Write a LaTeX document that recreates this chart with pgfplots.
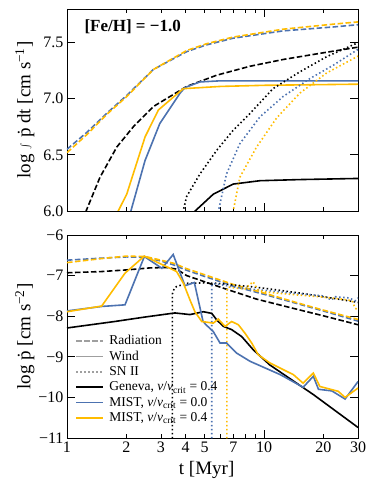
\documentclass[border=0pt]{standalone}
\usepackage{fontspec}
\setmainfont{Liberation Serif}
\usepackage{pgfplots}
\pgfplotsset{compat=1.18}
\definecolor{mblue}{RGB}{76,114,176}
\definecolor{mgold}{RGB}{255,188,0}

\pgfplotsset{
  panel/.style={
    scale only axis, width=291pt, xmin=1, xmax=30,
    xtick={1,10}, minor xtick={6,8,9},
    extra x ticks={2,3,4,5,7,20,30},
    extra x tick style={major tick length=4pt, grid=none},
    major tick length=8pt, minor tick length=4pt,
    tick style={black, line width=0.8pt},
    axis line style={line width=0.8pt},
    tick label style={font=\fontsize{16}{18}\selectfont},
    /pgf/number format/assume math mode=true,
    label style={font=\fontsize{19}{22}\selectfont},
    ylabel style={at={(axis description cs:-0.145,0.5)}, anchor=center},
  },
  rad/.style={line width=1.6pt, dash pattern=on 5.5pt off 2.5pt},
  wind/.style={line width=1.6pt},
  sn/.style={line width=1.6pt, dash pattern=on 1.5pt off 2.5pt},
}

\begin{document}
\begin{tikzpicture}
% ---- top: cumulative momentum ----
\begin{semilogxaxis}[panel, at={(0,0)}, height=202pt,
  ymin=6.0, ymax=7.8, ytick={6.0,6.5,7.0,7.5}, yticklabels={6.0,6.5,7.0,7.5},
  xticklabels={}, extra x tick labels={},
  ylabel={log $\int$ \.{p} dt [cm s\textsuperscript{−1}]},
]
\addplot[rad, mblue] coordinates {(1,6.55) (1.26,6.70) (1.59,6.87) (2.01,7.03) (2.74,7.26) (4.05,7.42) (5.1,7.48) (6.98,7.54) (12.5,7.605) (22.5,7.64) (30,7.66)};
\addplot[rad, mgold] coordinates {(1,6.52) (1.26,6.68) (1.59,6.86) (2.01,7.02) (2.74,7.26) (4.05,7.43) (5.1,7.49) (6.98,7.55) (12.5,7.62) (22.5,7.665) (30,7.685)};
\addplot[rad, black] coordinates {(1.22,5.92) (1.25,6.0) (1.47,6.30) (1.79,6.57) (2.17,6.75) (2.74,6.93) (4.05,7.11) (5.75,7.21) (8.5,7.29) (12.5,7.35) (18.5,7.40) (30,7.46)};
\addplot[wind, mblue] coordinates {(2.05,5.9) (2.11,6.0) (2.49,6.45) (2.96,6.78) (3.75,7.05) (3.97,7.10) (4.73,7.15) (6,7.16) (30,7.16)};
\addplot[wind, mgold] coordinates {(1.78,5.9) (1.82,6.0) (2.01,6.15) (2.49,6.66) (2.91,6.90) (3.89,7.09) (6,7.11) (10,7.12) (30,7.13)};
\addplot[wind, black] coordinates {(4.4,5.97) (4.47,6.0) (5.53,6.15) (6.98,6.24) (9.55,6.27) (15.2,6.28) (30,6.29)};
\addplot[sn, black] coordinates {(3.85,5.95) (3.89,6.0) (4.05,6.13) (4.73,6.33) (5.75,6.54) (6.98,6.72) (8.5,6.87) (11.1,7.09) (15.2,7.24) (20.8,7.375) (30,7.5)};
\addplot[sn, mblue] coordinates {(5.8,5.95) (5.87,6.0) (6.45,6.33) (7.54,6.60) (9.55,6.84) (12.5,7.02) (17.1,7.18) (22.5,7.30) (30,7.44)};
\addplot[sn, mgold] coordinates {(6.9,5.95) (6.98,6.0) (7.54,6.30) (9.17,6.57) (11.6,6.83) (15.2,7.05) (20.8,7.23) (30,7.38)};
\node[anchor=west, font=\fontsize{17}{19}\selectfont] at (rel axis cs:0.048,0.912) {\textbf{[Fe/H] = −1.0}};
\end{semilogxaxis}

% ---- bottom: momentum injection rate ----
\begin{semilogxaxis}[panel, at={(0,-227pt)}, height=203pt,
  ymin=-11, ymax=-6, ytick={-11,-10,-9,-8,-7,-6}, yticklabels={−11,−10,−9,−8,−7,−6},
  xticklabels={1,10}, extra x tick labels={2,3,4,5,7,20,30},
  xlabel={t [Myr]}, ylabel={log \.{p} [cm s\textsuperscript{−2}]},
  xlabel style={at={(axis description cs:0.48,-0.155)}, anchor=center},
  legend style={at={(axis description cs:0.025,0.058)}, anchor=south west, draw=none, fill=none,
    font=\fontsize{13.5}{14}\selectfont, row sep=0.8pt, inner sep=1pt,
    /tikz/every odd column/.append style={column sep=3pt}},
  legend cell align=left,
  legend image code/.code={\draw[#1, line width=1.9pt] (0pt,0pt) -- (27pt,0pt);},
]
\addlegendimage{rad, gray!75}\addlegendentry{Radiation}
\addlegendimage{wind, gray!75}\addlegendentry{Wind}
\addlegendimage{sn, gray!75}\addlegendentry{SN II}
\addlegendimage{wind, black}\addlegendentry{Geneva, \textit{v}/\textit{v}\textsubscript{crit} = 0.4}
\addlegendimage{wind, mblue}\addlegendentry{MIST, \textit{v}/\textit{v}\textsubscript{crit} = 0.0}
\addlegendimage{wind, mgold}\addlegendentry{MIST, \textit{v}/\textit{v}\textsubscript{crit} = 0.4}

\addplot[rad, black, forget plot] coordinates {(1,-6.93) (1.5,-6.90) (2,-6.86) (2.64,-6.81) (3.2,-6.80) (3.6,-6.84) (4.05,-7.00) (6.22,-7.31) (9.18,-7.58) (15,-7.84) (20,-7.99) (30,-8.21)};
\addplot[rad, mblue, forget plot] coordinates {(1,-6.62) (1.5,-6.57) (2,-6.54) (2.5,-6.55) (3,-6.64) (3.5,-6.74) (4,-6.86) (5,-7.02) (7,-7.26) (10,-7.46) (15,-7.70) (20,-7.87) (30,-8.12)};
\addplot[rad, mgold, forget plot] coordinates {(1,-6.68) (1.5,-6.58) (2,-6.52) (2.5,-6.53) (3,-6.62) (3.5,-6.70) (4,-6.82) (5,-6.98) (7,-7.22) (10,-7.43) (15,-7.68) (20,-7.85) (30,-8.08)};

\addplot[sn, black, forget plot] coordinates {(3.43,-11.5) (3.43,-7.45) (3.5,-7.32) (3.6,-7.27) (4.05,-7.19) (5,-7.18) (5.75,-7.19) (8.49,-7.27) (10,-7.31) (15.2,-7.43) (22.5,-7.56) (30,-7.66)};
\addplot[sn, mblue, forget plot] coordinates {(5.43,-11.5) (5.43,-7.25) (5.5,-7.2) (6,-7.22) (7,-7.28) (8.5,-7.33) (10,-7.36) (15,-7.45) (20,-7.50) (22,-7.6) (23,-7.52) (27,-7.55) (29,-7.62) (30,-7.55)};
\addplot[sn, mgold, forget plot] coordinates {(6.48,-11.5) (6.48,-7.35) (6.6,-7.28) (7,-7.30) (8,-7.33) (8.8,-7.15) (9.3,-7.35) (10,-7.40) (15,-7.48) (20,-7.53) (25,-7.58) (28,-7.62) (29,-7.8) (30,-7.85)};

\addplot[wind, black, forget plot] coordinates {(1,-8.29) (1.75,-8.13) (2.49,-8.02) (3.53,-7.92) (4.21,-7.96) (4.92,-7.89) (5.43,-7.93) (5.75,-8.09) (6.22,-8.25) (6.85,-8.33) (7.7,-8.50) (8.83,-8.83) (10.7,-9.20) (17.8,-9.93) (30,-10.74)};
\addplot[wind, mblue, forget plot] coordinates {(1,-7.87) (1.5,-7.76) (1.97,-7.72) (2.47,-6.53) (3.03,-6.82) (3.46,-6.48) (3.97,-7.25) (4.43,-7.17) (4.9,-8.12) (5.05,-8.2) (5.53,-8.38) (5.98,-8.66) (6.46,-8.66) (7.27,-8.91) (8.49,-9.11) (9.55,-9.22) (12.1,-9.44) (15.8,-9.75) (17.8,-9.48) (18.9,-9.80) (22.1,-9.84) (25.8,-10.04) (30,-9.61)};
\addplot[wind, mgold, forget plot] coordinates {(1,-7.89) (1.5,-7.75) (1.97,-6.94) (2.47,-6.52) (3.33,-6.82) (3.6,-6.90) (3.9,-7.19) (4.21,-7.60) (4.46,-7.89) (4.83,-8.13) (5.53,-8.17) (5.86,-8.07) (6.34,-8.25) (6.85,-8.13) (7.41,-8.21) (8.01,-8.42) (8.66,-8.66) (9.35,-8.95) (10.7,-9.15) (12.1,-9.28) (14.1,-9.44) (15.8,-9.65) (17.8,-9.40) (19.2,-9.73) (23.8,-9.85) (25.8,-10.0) (30,-9.77)};
\end{semilogxaxis}
\pgfresetboundingbox
\path[use as bounding box] (-67pt,-278pt) rectangle (307pt,211pt);
\end{tikzpicture}
\end{document}
